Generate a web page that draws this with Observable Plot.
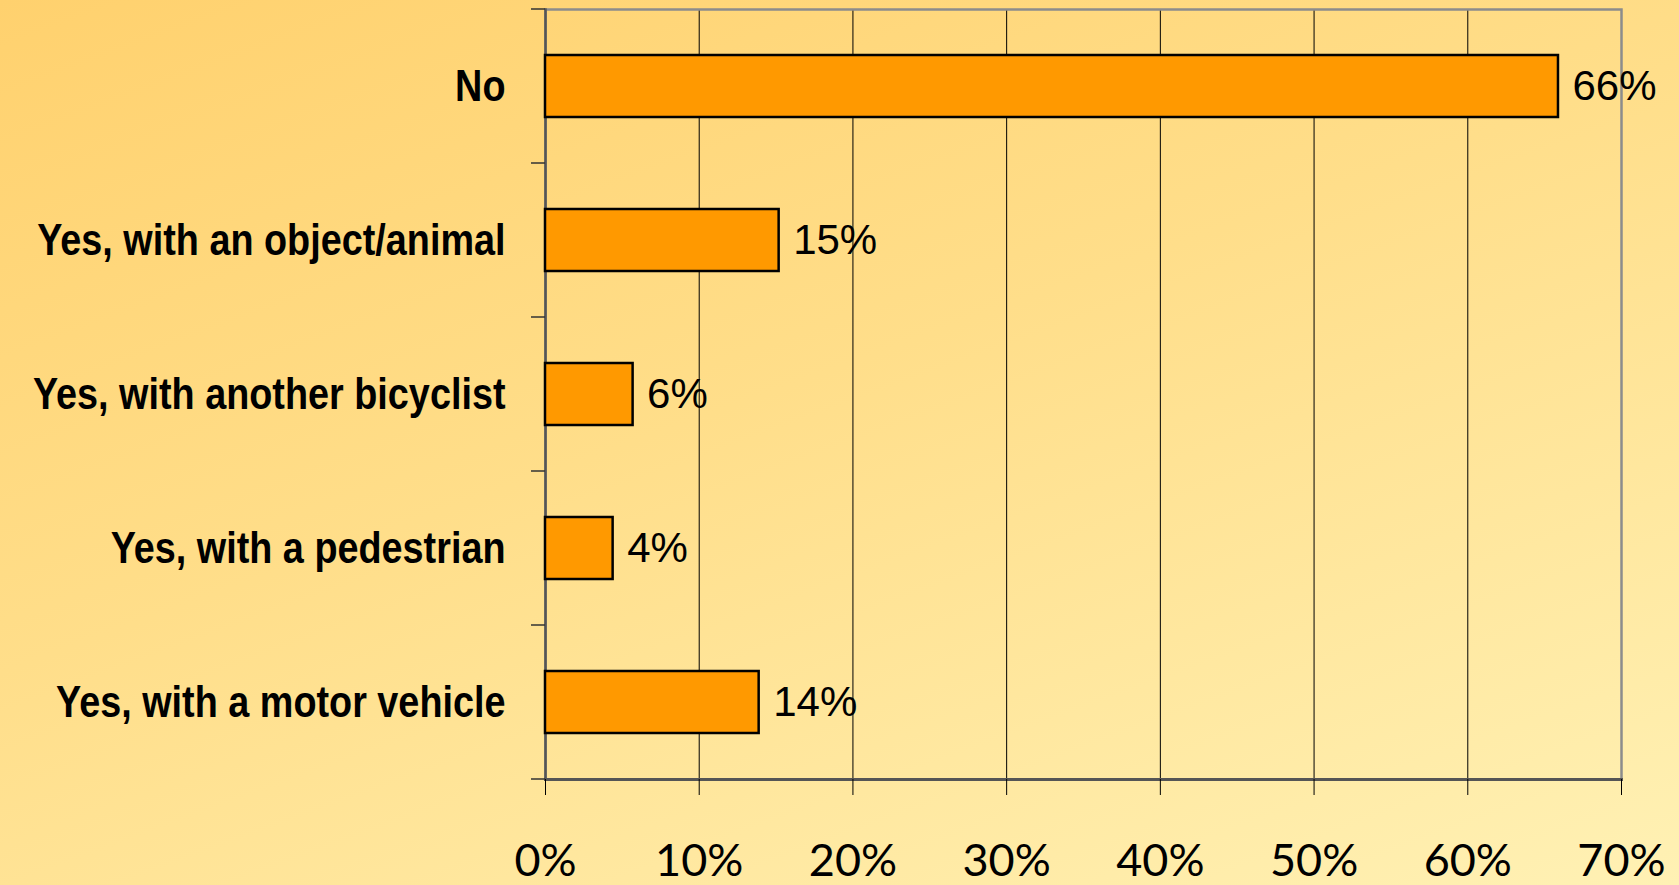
<!DOCTYPE html>
<html><head><meta charset="utf-8">
<script src="https://cdn.jsdelivr.net/npm/d3@7"></script>
<script src="https://cdn.jsdelivr.net/npm/@observablehq/plot@0.6"></script>
<style>
html,body{margin:0;padding:0;}
body{width:1679px;height:885px;overflow:hidden;background:linear-gradient(160deg,#FFD16E 0%,#FFDE8A 45%,#FFF1B4 100%);}
</style></head><body><div id="chart"></div>
<script>
const categories = ["No","Yes, with an object/animal","Yes, with another bicyclist","Yes, with a pedestrian","Yes, with a motor vehicle"];
const values = [65.9, 15.2, 5.7, 4.4, 13.9];
const valueLabels = ["66%","15%","6%","4%","14%"];
const xTicks = [0,10,20,30,40,50,60,70];
const gridTicks = [10,20,30,40,50,60];
const data = categories.map((c,i)=>({category:c, value:values[i], label:valueLabels[i]}));

const catFont = "'Liberation Sans',Arial,sans-serif";
const plot = Plot.plot({
  width:1679, height:885,
  marginLeft:545, marginRight:58, marginTop:9, marginBottom:106,
  style:{background:"transparent", overflow:"visible"},
  x:{domain:[0,70]},
  y:{domain:categories, paddingInner:0.6, paddingOuter:0.3, axis:null},
  marks:[
    Plot.ruleX(gridTicks,{stroke:"#000", strokeWidth:1}),
    Plot.frame({stroke:"#8c8c8c", strokeWidth:2.5}),
    Plot.frame({anchor:"left", stroke:"#555", strokeWidth:2.5}),
    Plot.frame({anchor:"bottom", stroke:"#555", strokeWidth:3}),
    Plot.barX(data,{x:"value", y:"category", fill:"#FF9900", stroke:"#000", strokeWidth:2.5}),
    Plot.text(data,{x:"value", y:"category", text:"label", textAnchor:"start", dx:14, fontSize:42, fontFamily:"'Liberation Sans',Arial,sans-serif", fill:"#000"}),
    Plot.axisX({ticks:xTicks, tickSize:16, tickPadding:49, tickFormat:d=>d+"%", fontSize:45, fontFamily:"Lato,sans-serif", stroke:"#000", label:null}),
    Plot.text(categories,{y:d=>d, text:d=>d, frameAnchor:"left", textAnchor:"end", dx:-40, fontSize:45, fontFamily:catFont, fontWeight:"bold", fill:"#000"})
  ]
});
document.getElementById("chart").appendChild(plot);

// condense the category labels horizontally (narrow-font look), anchored at their right edge
d3.select(plot).selectAll("text").filter(function(){ return categories.includes(this.textContent); })
  .each(function(){
    const b = this.getBBox();
    const R = b.x + b.width;
    const t = this.getAttribute("transform") || "";
    this.setAttribute("transform", `${t} translate(${R},0) scale(0.84,1) translate(${-R},0)`);
  });

// Excel-style tick marks at category boundaries
const ys = plot.scale("y");
const gap = (ys.step - ys.bandwidth)/2;
const bounds = categories.map(c => ys.apply(c) - gap);
bounds.push(ys.apply(categories[categories.length-1]) + ys.bandwidth + gap);
d3.select(plot).append("g").selectAll("line").data(bounds).join("line")
  .attr("x1", 545-14).attr("x2", 545).attr("y1", d=>d).attr("y2", d=>d)
  .attr("stroke", "#333").attr("stroke-width", 1.5);
</script></body></html>
